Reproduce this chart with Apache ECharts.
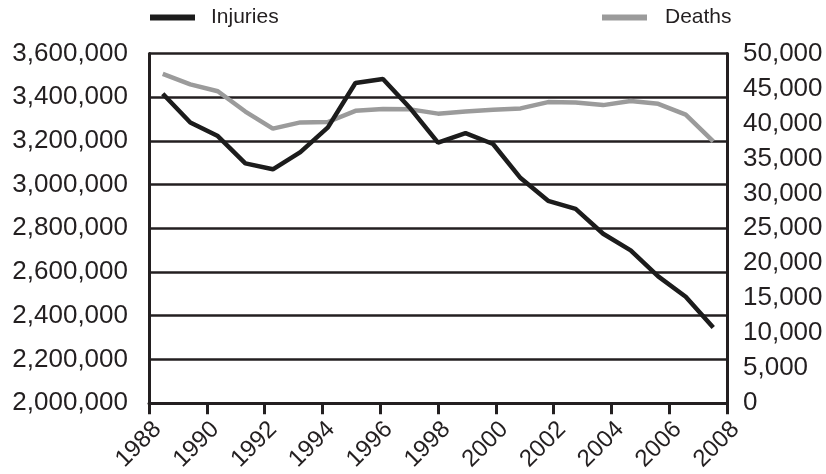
<!DOCTYPE html>
<html>
<head>
<meta charset="utf-8">
<script src="https://cdn.jsdelivr.net/npm/echarts@6/dist/echarts.min.js"></script>
<style>
html,body{margin:0;padding:0;background:#fff;}
#chart{width:826px;height:474px;}
</style>
</head>
<body>
<div id="chart"></div>
<script>
// Data
var years = ['1988','1989','1990','1991','1992','1993','1994','1995','1996','1997','1998','1999','2000','2001','2002','2003','2004','2005','2006','2007','2008'];
var injuries = [3416000, 3284000, 3222000, 3097000, 3070000, 3149000, 3262000, 3465000, 3483000, 3348000, 3192000, 3236000, 3186000, 3030000, 2926000, 2889000, 2775000, 2699000, 2580000, 2487000, 2346000];
var deaths = [47087, 45582, 44599, 41700, 39250, 40150, 40200, 41800, 42065, 42013, 41400, 41717, 41945, 42150, 43050, 43000, 42620, 43200, 42800, 41259, 37450];
var xTickYears = [1988, 1990, 1992, 1994, 1996, 1998, 2000, 2002, 2004, 2006, 2008];
var leftTicks = {min: 2000000, max: 3600000, step: 200000};
var rightTicks = {min: 0, max: 50000, step: 5000};

var dark = '#231f20';
var chart = echarts.init(document.getElementById('chart'));
chart.setOption({
  animation: false,
  backgroundColor: '#ffffff',
  textStyle: {fontFamily: 'Liberation Sans, Arial, sans-serif'},
  grid: {left: 149, right: 99, top: 53.5, bottom: 68.3, containLabel: false},
  legend: [
    {data: ['Injuries'], left: 150, top: 7, padding: 0, itemWidth: 45, itemHeight: 6, icon: 'rect',
     textStyle: {fontSize: 21, color: dark, padding: [0, 0, 0, 11], fontFamily: 'Liberation Sans'}},
    {data: ['Deaths'], left: 602, top: 7, padding: 0, itemWidth: 45, itemHeight: 6, icon: 'rect',
     textStyle: {fontSize: 21, color: dark, padding: [0, 0, 0, 13], fontFamily: 'Liberation Sans'}}
  ],
  xAxis: [
    {type: 'category', data: years, boundaryGap: true, show: false, position: 'bottom'},
    {type: 'value', min: xTickYears[0], max: xTickYears[xTickYears.length - 1], interval: xTickYears[1] - xTickYears[0],
     position: 'bottom',
     axisLine: {show: true, onZero: false, lineStyle: {color: dark, width: 3}},
     axisTick: {show: true, length: 11, lineStyle: {color: dark, width: 3}},
     splitLine: {show: false},
     axisLabel: {rotate: 45, margin: 14, fontSize: 24, color: dark, fontFamily: 'Liberation Sans',
       verticalAlign: 'top', padding: [0, 0, 0, 0],
       formatter: function (v) { return xTickYears.indexOf(v) >= 0 ? String(v) : ''; }}
    }
  ],
  yAxis: [
    {type: 'value', min: leftTicks.min, max: leftTicks.max, interval: leftTicks.step, position: 'left',
     axisLine: {show: true, lineStyle: {color: dark, width: 3}},
     axisTick: {show: false},
     splitLine: {show: true, lineStyle: {color: dark, width: 2.5}},
     axisLabel: {margin: 21, fontSize: 26, color: dark, fontFamily: 'Liberation Sans'}},
    {type: 'value', min: rightTicks.min, max: rightTicks.max, interval: rightTicks.step, position: 'right',
     axisLine: {show: true, lineStyle: {color: dark, width: 3}},
     axisTick: {show: false},
     splitLine: {show: false},
     axisLabel: {margin: 16, fontSize: 26, color: dark, fontFamily: 'Liberation Sans'}}
  ],
  series: [
    {name: 'Injuries', type: 'line', xAxisIndex: 0, yAxisIndex: 0, data: injuries,
     showSymbol: false, symbol: 'none', color: '#1c1c1c',
     lineStyle: {color: '#1c1c1c', width: 4.5}, z: 3},
    {name: 'Deaths', type: 'line', xAxisIndex: 0, yAxisIndex: 1, data: deaths,
     showSymbol: false, symbol: 'none', color: '#9b9b9b',
     lineStyle: {color: '#9b9b9b', width: 4.5}, z: 2}
  ]
});
</script>
</body>
</html>
